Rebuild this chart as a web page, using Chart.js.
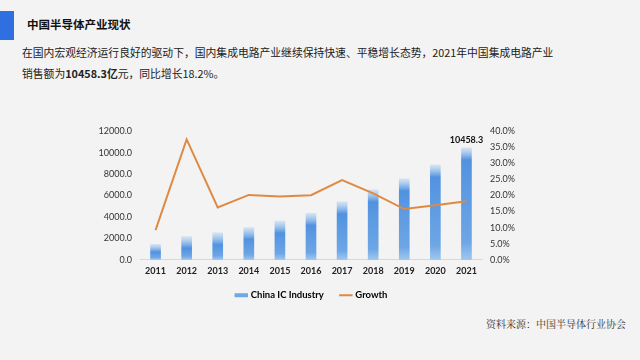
<!DOCTYPE html>
<html>
<head>
<meta charset="utf-8">
<script src="https://cdn.jsdelivr.net/npm/chart.js@4"></script>
<style>
body { margin:0; width:640px; height:360px; overflow:hidden; background:#f3f3f3; font-family:"Noto Sans CJK SC", sans-serif; position:relative; }
#bar { position:absolute; left:0; top:11px; width:14px; height:29px; background:#2f6fe0; }
#title { position:absolute; left:27px; top:16px; font-size:11.5px; font-weight:bold; color:#111; }
.para { position:absolute; left:22px; font-size:10.8px; color:#222; white-space:nowrap; }
#src { position:absolute; left:486px; top:316px; font-size:10px; color:#333; font-family:"Noto Serif CJK SC", serif; }
#wrap { position:absolute; left:90px; top:118px; width:460px; height:192px; }
</style>
</head>
<body>
<div id="bar"></div>
<div id="title">中国半导体产业现状</div>
<div class="para" style="top:44px">在国内宏观经济运行良好的驱动下，国内集成电路产业继续保持快速、平稳增长态势，2021年中国集成电路产业</div>
<div class="para" style="top:65px">销售额为<b>10458.3亿</b>元，同比增长18.2%。</div>
<div id="src">资料来源：中国半导体行业协会</div>
<div id="wrap"><canvas id="mycanvas"></canvas></div>
<script>
var years = ["2011","2012","2013","2014","2015","2016","2017","2018","2019","2020","2021"];
var sales = [1441, 2158, 2509, 3015, 3610, 4336, 5411, 6532, 7562, 8848, 10458.3];
var growth = [9.2, 37.5, 16.3, 20.2, 19.7, 20.1, 24.8, 20.7, 15.8, 17.0, 18.2];

// each bar fades out at its top, like the original
var blueFill = function(context) {
	var chart = context.chart;
	var area = chart.chartArea;
	if (!area || context.type !== "data") return "#5d9be0";
	var top = chart.scales.y.getPixelForValue(sales[context.dataIndex]);
	var g = chart.ctx.createLinearGradient(0, top, 0, area.bottom);
	var h = area.bottom - top;
	var f = Math.min(0.5, 12 / h);
	g.addColorStop(0, "rgba(120,180,240,0.25)");
	g.addColorStop(f, "rgba(72,140,222,0.95)");
	g.addColorStop(0.85, "rgba(95,158,228,0.9)");
	g.addColorStop(1, "rgba(130,182,236,0.75)");
	return g;
};

var lastLabel = {
	id: "lastLabel",
	afterLayout: function(chart) {
		// legend sits a little left of centre in the original
		chart.legend.left -= 8;
		chart.legend.right -= 8;
	},
	afterDatasetsDraw: function(chart) {
		var meta = chart.getDatasetMeta(0);
		var el = meta.data[meta.data.length - 1];
		var c = chart.ctx;
		c.save();
		c.font = "bold 9px Lato";
		c.fillStyle = "#111";
		c.textAlign = "center";
		c.fillText(sales[sales.length - 1].toFixed(1), el.x, el.y - 8);
		c.restore();
	}
};

var LineGraph = new Chart(document.getElementById("mycanvas"), {
	type: "bar",
	data: {
		labels: years,
		datasets: [
			{
				label: "China IC Industry",
				data: sales,
				backgroundColor: blueFill,
				barThickness: 10,
				yAxisID: "y",
				order: 2
			},
			{
				label: "Growth",
				type: "line",
				data: growth,
				borderColor: "#df8a43",
				borderWidth: 2,
				pointRadius: 0,
				tension: 0,
				fill: false,
				yAxisID: "y1",
				order: 1
			}
		]
	},
	plugins: [lastLabel],
	options: {
		responsive: true,
		maintainAspectRatio: false,
		animation: false,
		layout: { padding: { top: 9, left: 0, right: 0, bottom: 0 } },
		plugins: {
			tooltip: { enabled: false },
			legend: {
				position: "bottom",
				labels: {
					font: { family: "Lato", size: 9.5, weight: "bold" },
					color: "#222",
					boxWidth: 17,
					padding: 8,
					usePointStyle: true,
					generateLabels: function(chart) {
						return [
							{ text: "China IC Industry    ", pointStyle: "line", strokeStyle: "#6fa8e4", fillStyle: "#6fa8e4", lineWidth: 4, datasetIndex: 0 },
							{ text: "Growth", pointStyle: "line", strokeStyle: "#df8a43", fillStyle: "#df8a43", lineWidth: 2, datasetIndex: 1 }
						];
					}
				}
			}
		},
		scales: {
			x: {
				grid: { display: false, drawTicks: false },
				border: { color: "#d8d8d8" },
				ticks: { font: { family: "Lato", size: 9, weight: "bold" }, color: "#222", padding: 6 }
			},
			y: {
				position: "left",
				min: 0, max: 12000,
				afterFit: function(axis) { axis.width = 50; },
				grid: { display: false, drawTicks: false },
				border: { display: false },
				ticks: { stepSize: 2000, font: { family: "Lato", size: 9 }, color: "#333", padding: 8,
					callback: function(v) { return v.toFixed(1); } }
			},
			y1: {
				position: "right",
				min: 0, max: 40,
				afterFit: function(axis) { axis.width = 68; },
				grid: { display: false, drawTicks: false },
				border: { display: false },
				ticks: { stepSize: 5, font: { family: "Lato", size: 9 }, color: "#333", padding: 8,
					callback: function(v) { return v.toFixed(1) + "%"; } }
			}
		}
	}
});
</script>
</body>
</html>
